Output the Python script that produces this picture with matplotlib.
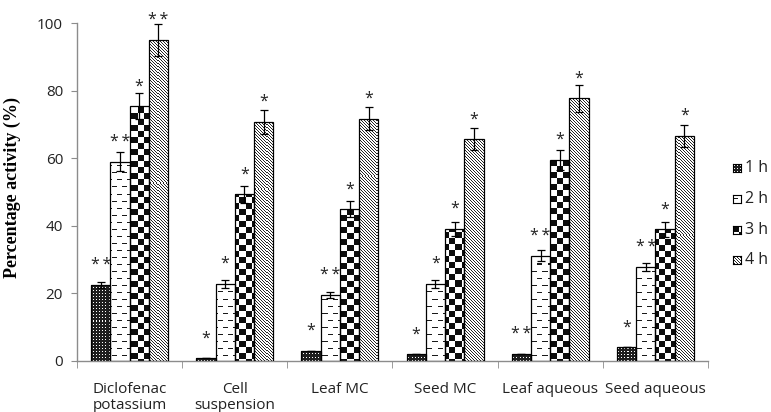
import numpy as np
import matplotlib
matplotlib.use('Agg')
import matplotlib.pyplot as plt

groups = ['Diclofenac\npotassium', 'Cell\nsuspension', 'Leaf MC', 'Seed MC',
          'Leaf aqueous', 'Seed aqueous']
hours = ['1 h', '2 h', '3 h', '4 h']

act_1h = [22.5, 0.8, 3.0, 2.0, 2.0, 4.0]
act_2h = [59.0, 22.9, 19.5, 22.9, 31.2, 27.8]
act_3h = [75.4, 49.3, 44.9, 39.1, 59.5, 39.0]
act_4h = [95.0, 70.8, 71.7, 65.6, 77.7, 66.6]

err_1h = [1.0, 0, 0, 0, 0, 0]
err_2h = [2.9, 1.2, 1.0, 1.2, 1.5, 1.3]
err_3h = [3.8, 2.5, 2.3, 2.0, 3.0, 2.2]
err_4h = [4.7, 3.6, 3.5, 3.3, 3.9, 3.3]

sig_1h = ['**', '*', '*', '*', '**', '*']
sig_2h = ['**', '*', '**', '*', '**', '**']
sig_3h = ['*', '*', '*', '*', '*', '*']
sig_4h = ['**', '*', '*', '*', '*', '*']

plt.rcParams['font.family'] = ['Open Sans', 'DejaVu Sans']


def pattern(kind, h, w):
    # pixel textures standing in for the Excel fill patterns
    yy, xx = np.mgrid[0:h, 0:w]
    if kind == 0:
        img = np.full((h, w), 0.12)
        img[(yy % 3 == 1) & (xx % 3 == 1)] = 1.0
    elif kind == 1:
        img = np.ones((h, w))
        shift = ((yy // 7) % 2) * 5
        img[(yy % 7 == 3) & ((xx + shift) % 10 < 5)] = 0.1
    elif kind == 2:
        img = np.where(((xx // 6) + (yy // 6)) % 2 == 0, 0.05, 1.0)
    else:
        img = np.where((xx - yy) % 3 == 0, 0.15, 1.0)
    return img


W_FIG, H_FIG = 771, 412
fig = plt.figure(figsize=(W_FIG / 100, H_FIG / 100), dpi=100)
ax_l, ax_r, ax_t, ax_b = 77, 708, 23, 361
ax = fig.add_axes([ax_l / W_FIG, 1 - ax_b / H_FIG, (ax_r - ax_l) / W_FIG, (ax_b - ax_t) / H_FIG])
W_PX, H_PX = ax_r - ax_l, ax_b - ax_t

x = np.arange(len(groups))
w = 0.183
series = [(act_1h, err_1h, sig_1h), (act_2h, err_2h, sig_2h),
          (act_3h, err_3h, sig_3h), (act_4h, err_4h, sig_4h)]

for i, (vals, errs, sigs) in enumerate(series):
    pos = x + (i - 1.5) * w
    bars = ax.bar(pos, vals, w, color='white', edgecolor='none', zorder=1)
    tex = pattern(i, H_PX, W_PX)
    for b in bars:
        im = ax.imshow(tex, cmap='gray', vmin=0, vmax=1, extent=(-0.5, 5.5, 0, 100),
                       aspect='auto', interpolation='nearest', zorder=2)
        im.set_clip_path(b)
    ax.bar(pos, vals, w, fill=False, edgecolor='black', linewidth=0.9, zorder=3)
    ax.errorbar(pos, vals, yerr=errs, fmt='none', ecolor='black', elinewidth=0.9,
                capsize=3.2, capthick=0.9, zorder=4)
    for xp, v, s in zip(pos, vals, sigs):
        ax.annotate(s.replace('**', '*\u2009*'), (xp, v), xytext=(0, 11.5),
                    textcoords='offset points', ha='center', va='baseline',
                    fontsize=11.5, color='#222222')

ax.set_xlim(-0.5, 5.5)
ax.set_ylim(0, 100)
ax.set_yticks(np.arange(0, 101, 20))
ax.set_xticks(x)
ax.set_xticklabels(groups, linespacing=1.1)
ax.set_xticks(np.arange(-0.5, 6, 1), minor=True)

for s in ['top', 'right']:
    ax.spines[s].set_visible(False)
for s in ['left', 'bottom']:
    ax.spines[s].set_color('#8c8c8c')
    ax.spines[s].set_linewidth(1.0)

ax.tick_params(axis='y', length=4, color='#8c8c8c', labelsize=11, pad=6, labelcolor='#222222')
ax.tick_params(axis='x', which='major', length=0, pad=15, labelsize=11, labelcolor='#222222')
ax.tick_params(axis='x', which='minor', length=5, color='#8c8c8c')

ax.set_ylabel('Percentage activity (%)', fontfamily='Liberation Serif',
              fontweight='bold', fontsize=13)
ax.yaxis.set_label_coords((21 - ax_l) / W_PX, (ax_b - 187) / H_PX)

# legend swatches
rows_y = [168, 199, 230, 260]
for i, (lab, yc) in enumerate(zip(hours, rows_y)):
    sw = fig.add_axes([733 / W_FIG, 1 - (yc + 4) / H_FIG, 8 / W_FIG, 8 / H_FIG])
    sw.imshow(pattern(i, 8, 8), cmap='gray', vmin=0, vmax=1,
              interpolation='nearest', aspect='auto')
    sw.set_xticks([])
    sw.set_yticks([])
    for s in sw.spines.values():
        s.set_linewidth(0.8)
    fig.text(745 / W_FIG, 1 - yc / H_FIG, lab, va='center', ha='left',
             fontsize=11.5, color='#222222')

fig.savefig('out.png', dpi=100)
